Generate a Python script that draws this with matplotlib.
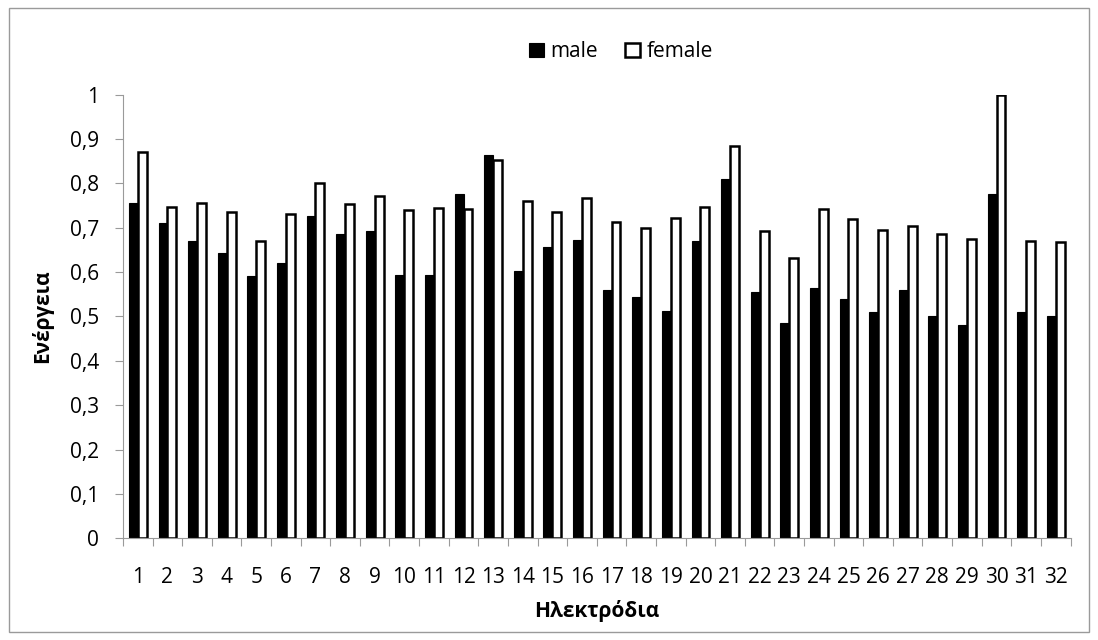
import numpy as np
import matplotlib
matplotlib.use("Agg")
import matplotlib.pyplot as plt
from matplotlib.patches import Rectangle
from matplotlib.ticker import FixedLocator, FuncFormatter

plt.rcParams['font.family'] = ['Open Sans', 'DejaVu Sans']

electrodes = [str(i) for i in range(1, 33)]
male = [0.755, 0.711, 0.670, 0.643, 0.592, 0.621, 0.726, 0.686, 0.692, 0.594,
        0.594, 0.777, 0.863, 0.602, 0.657, 0.673, 0.560, 0.544, 0.512, 0.670,
        0.810, 0.555, 0.485, 0.565, 0.540, 0.509, 0.559, 0.501, 0.480, 0.777,
        0.510, 0.500]
female = [0.871, 0.746, 0.755, 0.735, 0.671, 0.731, 0.802, 0.753, 0.771, 0.740,
          0.745, 0.742, 0.853, 0.760, 0.735, 0.768, 0.712, 0.699, 0.721, 0.746,
          0.885, 0.692, 0.631, 0.743, 0.720, 0.694, 0.703, 0.686, 0.674, 1.000,
          0.671, 0.667]


def comma(v, pos):
    if abs(v - round(v)) < 1e-9:
        return f"{int(round(v))}"
    return f"{v:.1f}".replace(".", ",")


fig = plt.figure(figsize=(10.98, 6.40), dpi=100)
ax = fig.add_axes([0.112, 0.159, 0.863, 0.693])

x = np.arange(len(electrodes))
w = 0.3
ax.bar(x - w / 2, male, w, color="black", edgecolor="black", linewidth=0.8, label="male")
ax.bar(x + w / 2, female, w, color="white", edgecolor="black", linewidth=1.8, label="female")

ax.set_xlim(-0.5, len(electrodes) - 0.5)
ax.set_ylim(0, 1)
ax.set_yticks(np.arange(0, 1.01, 0.1))
ax.yaxis.set_major_formatter(FuncFormatter(comma))

# ticks at category boundaries, labels at centres
ax.xaxis.set_major_locator(FixedLocator(np.arange(-0.5, len(electrodes), 1.0)))
ax.xaxis.set_minor_locator(FixedLocator(x))
ax.set_xticklabels([], minor=False)
ax.set_xticklabels(electrodes, minor=True)
ax.tick_params(axis="x", which="minor", length=0, pad=21, labelsize=15)
ax.tick_params(axis="x", which="major", length=6, color="#9a9a9a", direction="out")
ax.tick_params(axis="y", length=6, color="#9a9a9a", labelsize=15, pad=11)

for s in ("top", "right"):
    ax.spines[s].set_visible(False)
for s in ("left", "bottom"):
    ax.spines[s].set_color("#9a9a9a")

ax.set_xlabel("Ηλεκτρόδια", fontsize=15, fontweight="bold", va="center")
ax.xaxis.set_label_coords(0.5, -0.165)
ax.set_ylabel("Ενέργεια", fontsize=15, fontweight="bold", va="center")
ax.yaxis.set_label_coords(-0.0854, 0.5)

fig.legend(loc="center", bbox_to_anchor=(0.5656, 0.919), ncol=2, frameon=False,
           fontsize=15, handlelength=0.72, handleheight=0.72, handletextpad=0.33,
           columnspacing=1.3, borderaxespad=0)

fig.patches.append(Rectangle((0.008, 0.012), 0.984, 0.975, transform=fig.transFigure,
                             fill=False, edgecolor="#9a9a9a", linewidth=1))

fig.savefig("out.png", dpi=100)
